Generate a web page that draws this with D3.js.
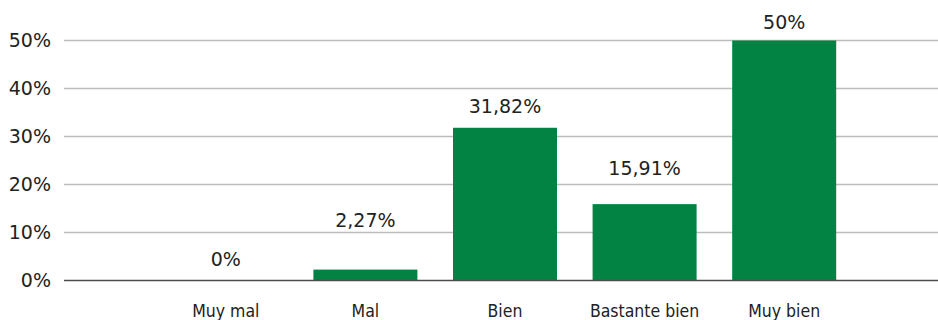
<!DOCTYPE html>
<html>
<head>
<meta charset="utf-8">
<script src="https://cdn.jsdelivr.net/npm/d3@7"></script>
<style>
  html, body { margin: 0; padding: 0; background: #fff; }
  svg { display: block; font-family: "DejaVu Sans", sans-serif; }
</style>
</head>
<body>
<svg id="chart" width="938" height="320"></svg>
<script>
// Valoración: porcentaje de respuestas por categoría
const categories = ["Muy mal", "Mal", "Bien", "Bastante bien", "Muy bien"];
const values = [0, 2.27, 31.82, 15.91, 50];
const valueLabels = ["0%", "2,27%", "31,82%", "15,91%", "50%"];
const yTicks = [0, 10, 20, 30, 40, 50];
const yTickLabels = ["0%", "10%", "20%", "30%", "40%", "50%"];

const svg = d3.select("#chart");
const plotLeft = 64, plotRight = 938;
const y = d3.scaleLinear().domain([0, 50]).range([280.5, 40.5]);
const x = d3.scaleBand().domain(categories).range([156, 854]).paddingInner(0.255).paddingOuter(0.1275);
const textColor = "#222";
// Desplazamiento vertical extra (px) de cada etiqueta de valor sobre su barra
const labelNudge = [0, 28, 0, 14, -3];

// Líneas de cuadrícula
svg.append("g").selectAll("line")
  .data(yTicks.filter(d => d > 0))
  .join("line")
  .attr("x1", plotLeft).attr("x2", plotRight)
  .attr("y1", d => y(d)).attr("y2", d => y(d))
  .attr("stroke", "#bdbdbd").attr("stroke-width", 1.3);

// Etiquetas del eje Y
svg.append("g").selectAll("text")
  .data(yTicks)
  .join("text")
  .attr("x", 51).attr("y", d => y(d))
  .attr("dy", "0.36em")
  .attr("text-anchor", "end")
  .attr("font-size", 19).attr("fill", textColor)
  .text((d, i) => yTickLabels[i]);

// Barras
svg.append("g").selectAll("rect")
  .data(values)
  .join("rect")
  .attr("x", (d, i) => x(categories[i]))
  .attr("width", x.bandwidth())
  .attr("y", d => y(d))
  .attr("height", d => y(0) - y(d))
  .attr("fill", "#028343");

// Línea base
svg.append("line")
  .attr("x1", plotLeft).attr("x2", plotRight)
  .attr("y1", y(0)).attr("y2", y(0))
  .attr("stroke", "#4d4d4d").attr("stroke-width", 1.3);

// Etiquetas de valor
svg.append("g").selectAll("text")
  .data(values)
  .join("text")
  .attr("x", (d, i) => x(categories[i]) + x.bandwidth() / 2)
  .attr("y", (d, i) => y(d) - 15 - labelNudge[i])
  .attr("text-anchor", "middle")
  .attr("font-size", 19).attr("fill", textColor)
  .text((d, i) => valueLabels[i]);

// Etiquetas de categoría
svg.append("g").selectAll("text")
  .data(categories)
  .join("text")
  .attr("x", d => x(d) + x.bandwidth() / 2)
  .attr("y", 317)
  .attr("text-anchor", "middle")
  .attr("font-family", "'DejaVu Sans Condensed', 'DejaVu Sans', sans-serif")
  .attr("font-size", 17.5).attr("fill", textColor)
  .text(d => d);
</script>
</body>
</html>
